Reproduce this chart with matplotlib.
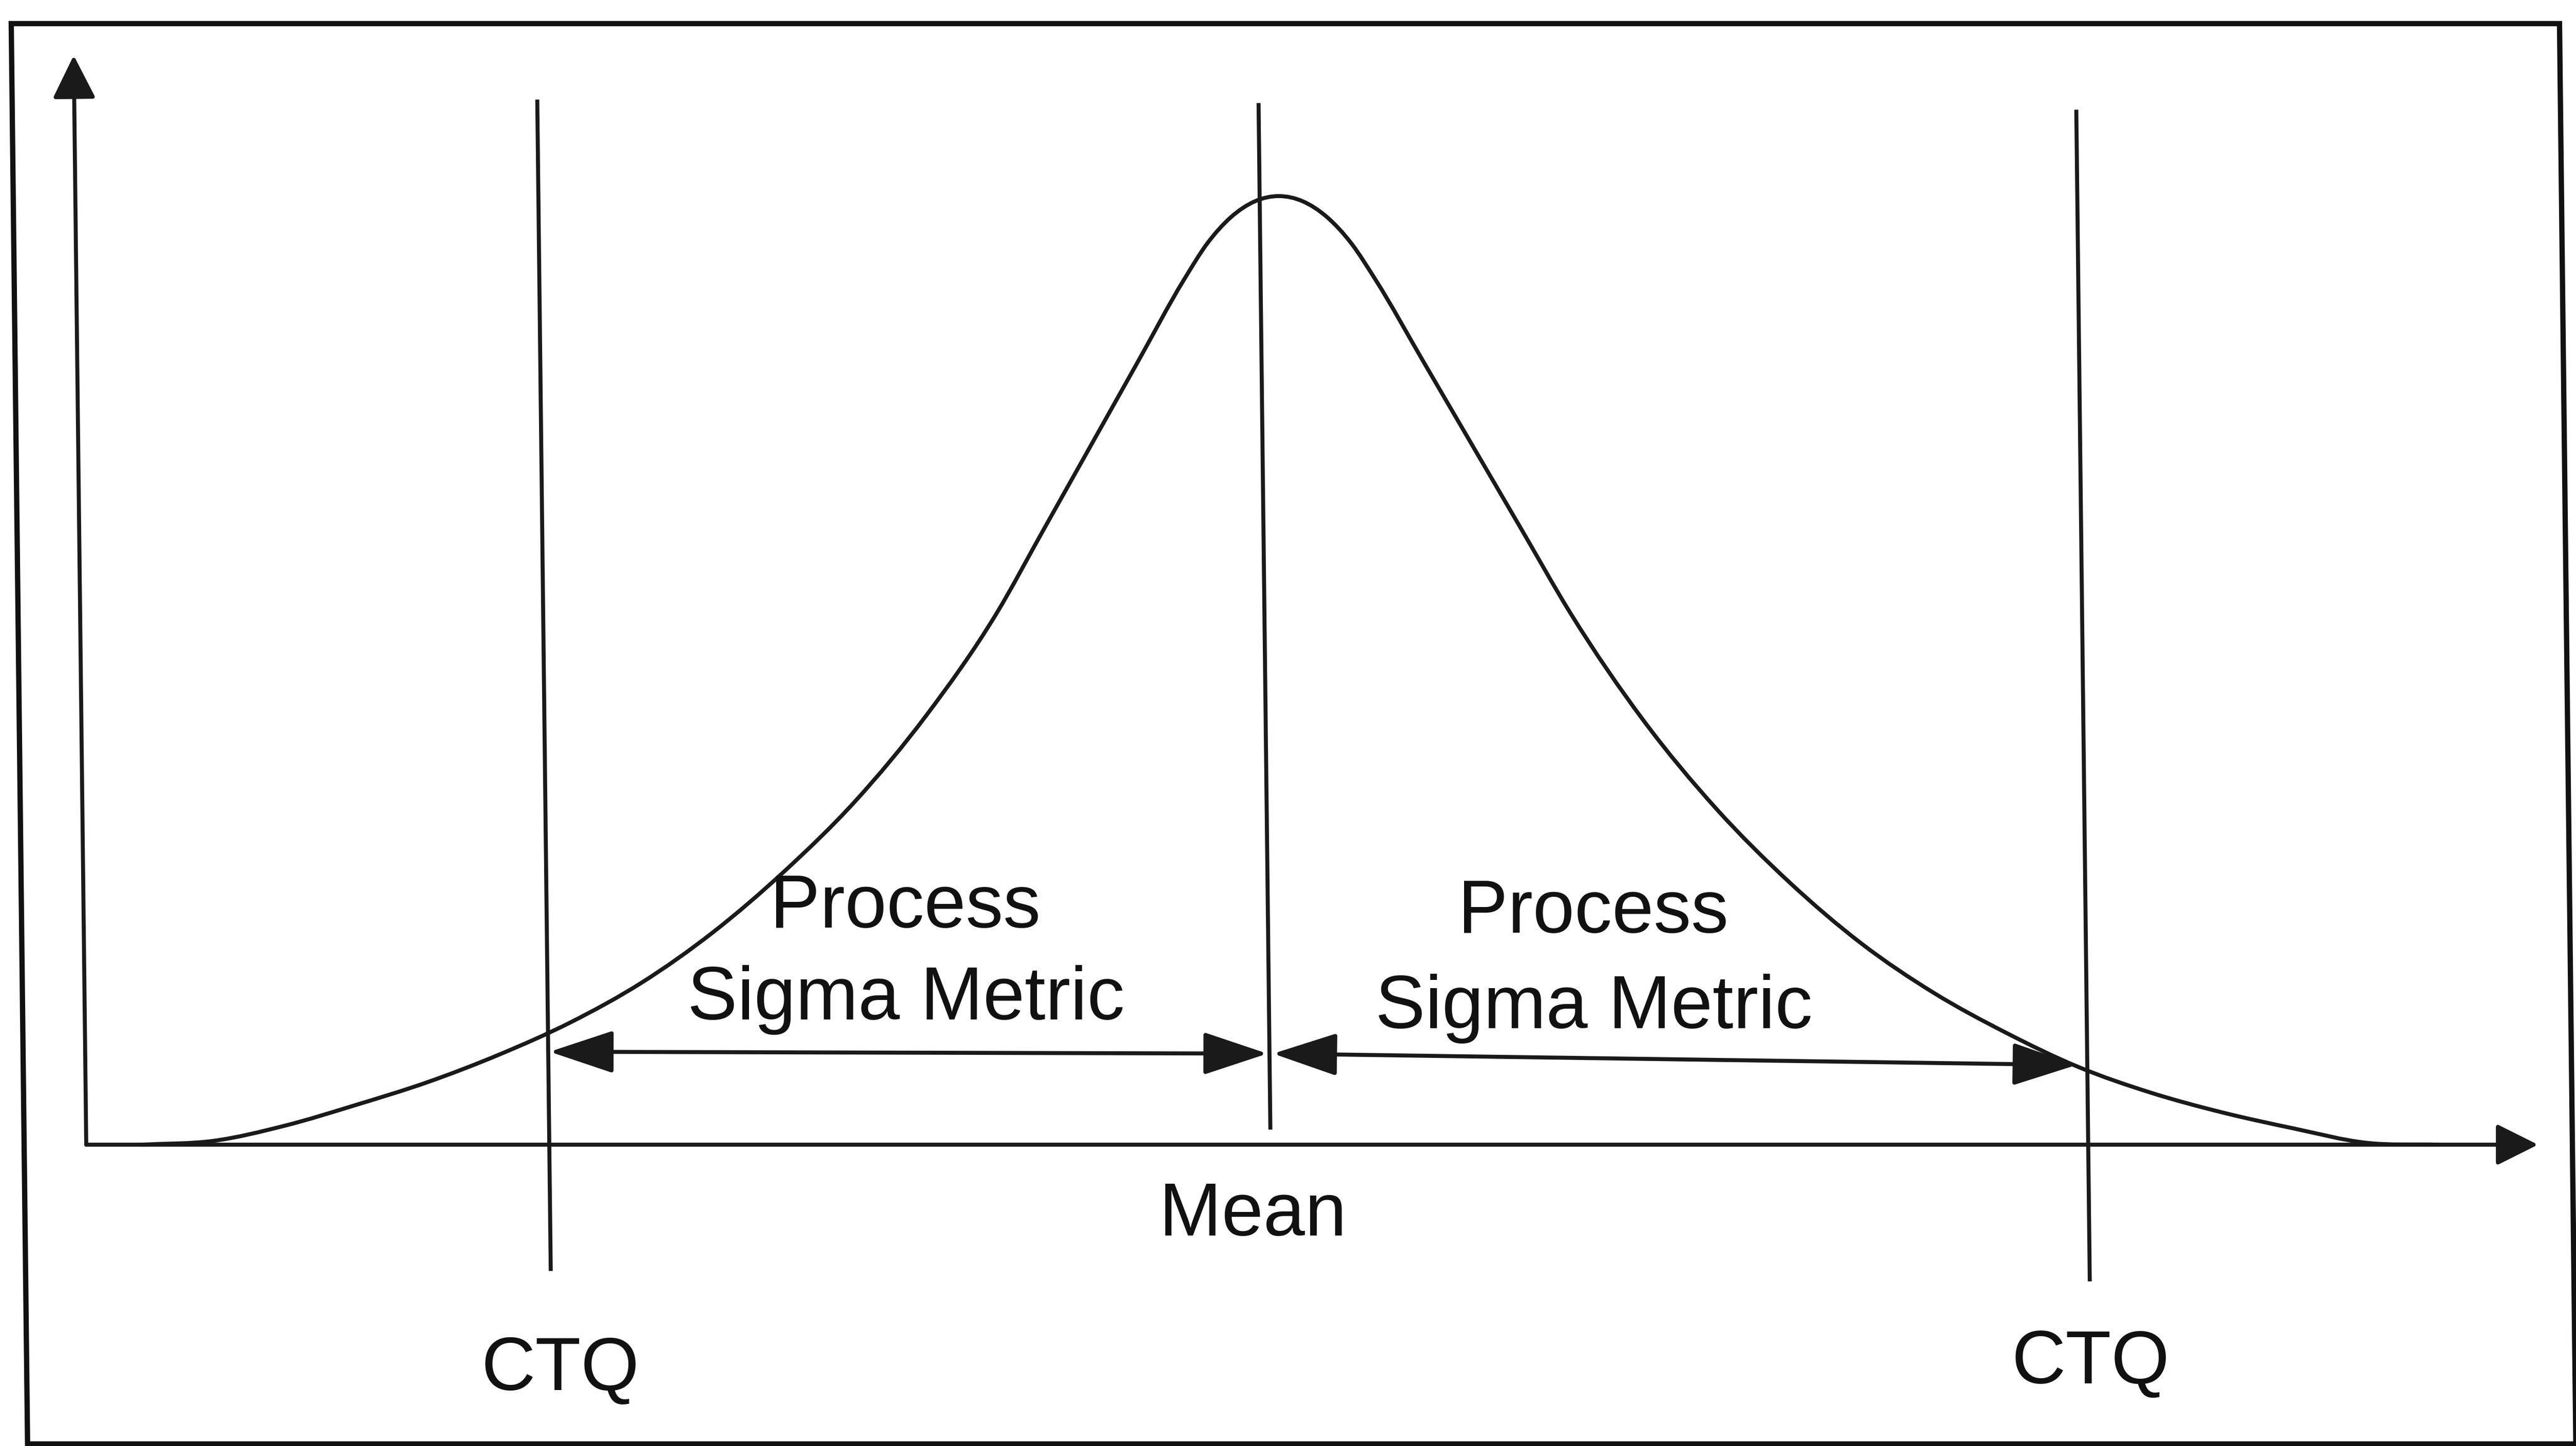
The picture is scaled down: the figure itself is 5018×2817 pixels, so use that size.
import numpy as np
import matplotlib
matplotlib.use("Agg")
import matplotlib.pyplot as plt
from matplotlib.patches import Rectangle, PathPatch
from matplotlib.path import Path
from matplotlib.transforms import Affine2D

# bell curve: x from the mean line, y relative to the peak
curve_x = [-4.72, -4.42, -4.12, -3.82, -3.52, -3.22, -2.92, -2.62, -2.32, -2.02,
           -1.72, -1.42, -1.12, -0.92, -0.72, -0.52, -0.32, -0.22, -0.12, -0.02,
           0.08, 0.18, 0.28, 0.38, 0.48, 0.68, 0.88, 1.08, 1.28, 1.58, 1.88,
           2.18, 2.48, 2.78, 3.08, 3.38, 3.68, 3.98, 4.28, 4.58, 4.88]
curve_y = [0.0, 0.004, 0.020, 0.042, 0.066, 0.095, 0.129, 0.171, 0.224, 0.288,
           0.362, 0.452, 0.560, 0.648, 0.736, 0.824, 0.912, 0.9505, 0.978, 0.9945,
           1.0, 0.9945, 0.978, 0.9505, 0.912, 0.824, 0.736, 0.648, 0.560, 0.447, 0.354,
           0.277, 0.212, 0.160, 0.118, 0.082, 0.055, 0.034, 0.017, 0.002, 0.0]

mean_x = 0.0
ctq_x = [-3.015, 3.418]

# "process sigma metric" arrows: x_start, y_start, x_end, y_end
arrow_left = [-3.009, 0.098, -0.009, 0.096]
arrow_right = [0.015, 0.096, 3.373, 0.084]

sigma_label = ["Process", "Sigma Metric"]
mean_label = "Mean"
ctq_label = "CTQ"

# ---- layout (pixels of the 5018x2817 output) ----
W, H = 5018, 2817
DPI = 100
PX_X = 466.0    # pixels per x unit
PX_Y = 1848.0   # pixels per y unit
X0 = 2475.0     # mean line, from the left
Y0 = 2230.0     # base line, from the top
K = 0.0115      # scan leans: verticals drift right going down

LW = 5.6
INK = "#1a1a1a"
FONT = "Liberation Sans"
FS = 105


def smooth_path(xs, ys):
    # bezier pieces through the read points, slopes from the neighbours
    x = np.asarray(xs, float)
    y = np.asarray(ys, float)
    h = np.diff(x)
    s = np.diff(y) / h
    m = np.zeros_like(x)
    m[0], m[-1] = s[0], s[-1]
    m[1:-1] = (h[:-1] * s[1:] + h[1:] * s[:-1]) / (h[:-1] + h[1:])
    verts = [(x[0], y[0])]
    codes = [Path.MOVETO]
    for i in range(len(x) - 1):
        d = h[i] / 3.0
        verts += [(x[i] + d, y[i] + m[i] * d),
                  (x[i + 1] - d, y[i + 1] - m[i + 1] * d),
                  (x[i + 1], y[i + 1])]
        codes += [Path.CURVE4] * 3
    return Path(np.array(verts), codes)


fig = plt.figure(figsize=(W / DPI, H / DPI), dpi=DPI)
fig.patch.set_facecolor("white")
ax = fig.add_axes([0, 0, 1, 1])
ax.axis("off")
ax.set_autoscale_on(False)

lean = Affine2D().skew(np.arctan(-K), 0).translate(K * (H - Y0), 0)
T = ax.transData + lean
pix = Affine2D().scale(1, -1).translate(0, H) + lean

# frame round the figure
ax.add_patch(Rectangle((47, 46), 5011 - 47, 2813 - 46, transform=pix,
                       fill=False, lw=7.4, edgecolor="#111111", clip_on=False))

# axes with arrow heads
x_left = (168 - X0) / PX_X
ax.annotate("", xy=(x_left, (Y0 - 108) / PX_Y), xytext=(x_left, 0.0),
            xycoords=T, textcoords=T,
            arrowprops=dict(arrowstyle="-|>,head_length=52,head_width=26",
                            mutation_scale=1, lw=LW, color=INK,
                            shrinkA=0, shrinkB=0))
ax.annotate("", xy=((4944 - X0) / PX_X, 0.0), xytext=(x_left, 0.0),
            xycoords=T, textcoords=T,
            arrowprops=dict(arrowstyle="-|>,head_length=50,head_width=25",
                            mutation_scale=1, lw=LW, color=INK,
                            shrinkA=0, shrinkB=0))

# curve
ax.add_patch(PathPatch(smooth_path(curve_x, curve_y), fill=False,
                       edgecolor=INK, lw=LW, transform=T,
                       joinstyle="round", capstyle="round", clip_on=False))

# CTQ and mean lines
ax.plot([ctq_x[0], ctq_x[0]], [-0.131, 1.0996], color=INK, lw=LW, transform=T)
ax.plot([mean_x, mean_x], [0.018, 1.096], color=INK, lw=LW, transform=T)
ax.plot([ctq_x[1], ctq_x[1]], [-0.142, 1.089], color=INK, lw=LW, transform=T)

# double arrows
for a in (arrow_left, arrow_right):
    ax.annotate("", xy=(a[2], a[3]), xytext=(a[0], a[1]),
                xycoords=T, textcoords=T,
                arrowprops=dict(arrowstyle="<|-|>,head_length=78,head_width=26",
                                mutation_scale=1, lw=LW, color=INK,
                                shrinkA=0, shrinkB=0))

# labels
txt = dict(transform=T, ha="center", va="baseline", fontsize=FS,
           family=FONT, color="#111111")
ax.text(-1.517, 0.229, sigma_label[0], **txt)
ax.text(-1.517, 0.132, sigma_label[1], **txt)
ax.text(1.358, 0.2235, sigma_label[0], **txt)
ax.text(1.358, 0.123, sigma_label[1], **txt)
ax.text(-0.079, -0.0958, mean_label, **txt)
ax.text(-2.981, -0.2587, ctq_label, **txt)
ax.text(3.416, -0.2516, ctq_label, **txt)

ax.set_xlim(-X0 / PX_X, (W - X0) / PX_X)
ax.set_ylim((Y0 - H) / PX_Y, Y0 / PX_Y)

plt.savefig("out.png", dpi=DPI, facecolor="white")
